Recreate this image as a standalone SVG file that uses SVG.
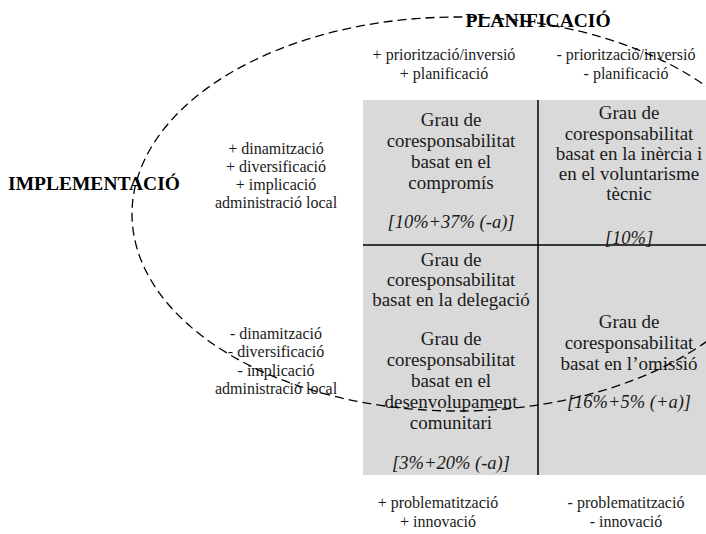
<svg xmlns="http://www.w3.org/2000/svg" width="706" height="534" viewBox="0 0 706 534">
<style>
.bg{fill:#ffffff}
.cell{fill:#d9d9d9;stroke:none}
.div{stroke:#000;stroke-width:1.5;fill:none}
.ct{font-family:"Liberation Serif","Times New Roman",serif;font-size:19px;fill:#1a1a1a;text-anchor:middle}
.ci{font-family:"Liberation Serif","Times New Roman",serif;font-size:18.5px;font-style:italic;fill:#1a1a1a;text-anchor:middle}
.lb{font-family:"Liberation Serif","Times New Roman",serif;font-size:16px;fill:#1a1a1a;text-anchor:middle}
.hd{font-family:"Liberation Serif","Times New Roman",serif;font-size:19.5px;font-weight:bold;fill:#000;text-anchor:middle}
.dash{fill:none;stroke:#000;stroke-width:1.3;stroke-dasharray:9 5}
</style>
<rect class="bg" x="0" y="0" width="706" height="534"/>
<g id="grid">
<rect class="cell" x="363" y="100" width="343" height="375"/>
<line class="div" x1="538" y1="100" x2="538" y2="475"/>
<line class="div" x1="363" y1="245" x2="706" y2="245"/>
</g>
<g id="cell-compromis">
<text class="ct" x="451" y="126">Grau de</text>
<text class="ct" x="451" y="147">coresponsabilitat</text>
<text class="ct" x="451" y="168">basat en el</text>
<text class="ct" x="451" y="189">compromís</text>
<text class="ci" x="451" y="228">[10%+37% (-a)]</text>
</g>
<g id="cell-inercia">
<text class="ct" x="629" y="119">Grau de</text>
<text class="ct" x="629" y="140">coresponsabilitat</text>
<text class="ct" x="629" y="160">basat en la inèrcia i</text>
<text class="ct" x="629" y="180">en el voluntarisme</text>
<text class="ct" x="629" y="200">tècnic</text>
<text class="ci" x="629" y="244">[10%]</text>
</g>
<g id="cell-delegacio">
<text class="ct" x="451" y="266">Grau de</text>
<text class="ct" x="451" y="286">coresponsabilitat</text>
<text class="ct" x="451" y="306">basat en la delegació</text>
<text class="ct" x="451" y="345">Grau de</text>
<text class="ct" x="451" y="366">coresponsabilitat</text>
<text class="ct" x="451" y="387">basat en el</text>
<text class="ct" x="451" y="408">desenvolupament</text>
<text class="ct" x="451" y="429">comunitari</text>
<text class="ci" x="451" y="469">[3%+20% (-a)]</text>
</g>
<g id="cell-omissio">
<text class="ct" x="629" y="328">Grau de</text>
<text class="ct" x="629" y="349">coresponsabilitat</text>
<text class="ct" x="629" y="370">basat en l’omissió</text>
<text class="ci" x="629" y="408">[16%+5% (+a)]</text>
</g>
<g id="col-plus">
<text class="lb" x="444" y="60">+ priorització/inversió</text>
<text class="lb" x="444" y="79">+ planificació</text>
</g>
<g id="col-minus">
<text class="lb" x="626" y="60">- priorització/inversió</text>
<text class="lb" x="626" y="79">- planificació</text>
</g>
<g id="row-plus">
<text class="lb" x="276" y="154">+ dinamització</text>
<text class="lb" x="276" y="172">+ diversificació</text>
<text class="lb" x="276" y="190">+ implicació</text>
<text class="lb" x="276" y="208">administració local</text>
</g>
<g id="row-minus">
<text class="lb" x="276" y="339">- dinamització</text>
<text class="lb" x="276" y="357">- diversificació</text>
<text class="lb" x="276" y="376">- implicació</text>
<text class="lb" x="276" y="394">administració local</text>
</g>
<g id="bottom-plus">
<text class="lb" x="438" y="508">+ problematització</text>
<text class="lb" x="438" y="527">+ innovació</text>
</g>
<g id="bottom-minus">
<text class="lb" x="626" y="508">- problematització</text>
<text class="lb" x="626" y="527">- innovació</text>
</g>
<g id="title-planificacio">
<text class="hd" x="538" y="27">PLANIFICACIÓ</text>
</g>
<g id="title-implementacio">
<text class="hd" x="94" y="190">IMPLEMENTACIÓ</text>
</g>
<g id="connectors">
<ellipse class="dash" cx="458" cy="214" rx="326" ry="197"/>
</g>
</svg>
